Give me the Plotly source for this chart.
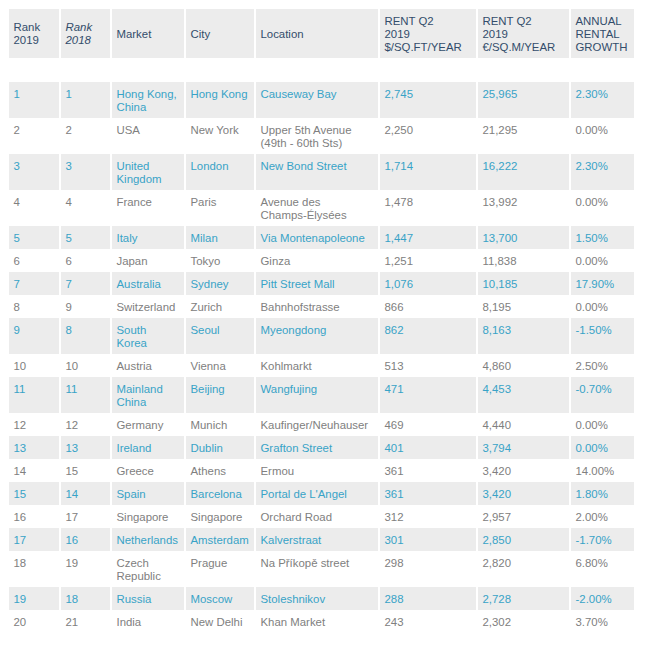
import plotly.graph_objects as go

# ---------------- data ----------------
header_labels = ["Rank\n2019", "<i>Rank</i>\n<i>2018</i>", "Market", "City", "Location",
                 "RENT Q2\n2019\n$/SQ.FT/YEAR", "RENT Q2\n2019\n€/SQ.M/YEAR", "ANNUAL\nRENTAL\nGROWTH"]

rank_2019 = [1, 2, 3, 4, 5, 6, 7, 8, 9, 10, 11, 12, 13, 14, 15, 16, 17, 18, 19, 20]
rank_2018 = [1, 2, 3, 4, 5, 6, 7, 9, 8, 10, 11, 12, 13, 15, 14, 17, 16, 19, 18, 21]
market = ["Hong Kong,\nChina", "USA", "United\nKingdom", "France", "Italy", "Japan", "Australia",
          "Switzerland", "South\nKorea", "Austria", "Mainland\nChina", "Germany", "Ireland", "Greece",
          "Spain", "Singapore", "Netherlands", "Czech\nRepublic", "Russia", "India"]
city = ["Hong Kong", "New York", "London", "Paris", "Milan", "Tokyo", "Sydney", "Zurich", "Seoul",
        "Vienna", "Beijing", "Munich", "Dublin", "Athens", "Barcelona", "Singapore", "Amsterdam",
        "Prague", "Moscow", "New Delhi"]
location = ["Causeway Bay", "Upper 5th Avenue\n(49th - 60th Sts)", "New Bond Street",
            "Avenue des\nChamps-Élysées", "Via Montenapoleone", "Ginza", "Pitt Street Mall",
            "Bahnhofstrasse", "Myeongdong", "Kohlmarkt", "Wangfujing", "Kaufinger/Neuhauser",
            "Grafton Street", "Ermou", "Portal de L'Angel", "Orchard Road", "Kalverstraat",
            "Na Příkopě street", "Stoleshnikov", "Khan Market"]
rent_usd_sqft = [2745, 2250, 1714, 1478, 1447, 1251, 1076, 866, 862, 513, 471, 469, 401, 361, 361,
                 312, 301, 298, 288, 243]
rent_eur_sqm = [25965, 21295, 16222, 13992, 13700, 11838, 10185, 8195, 8163, 4860, 4453, 4440, 3794,
                3420, 3420, 2957, 2850, 2820, 2728, 2302]
rental_growth = [2.30, 0.00, 2.30, 0.00, 1.50, 0.00, 17.90, 0.00, -1.50, 2.50, -0.70, 0.00, 0.00,
                 14.00, 1.80, 2.00, -1.70, 6.80, -2.00, 3.70]

# ---------------- layout constants ----------------
W, H = 647, 659
col_edges = [8, 60, 111, 185, 255, 379, 477, 570, 635]
TEXT_PAD = 5.5
TOP = 9
HEADER_H = 49
GAP_H = 24
ROW_H = 23
LINE_H = 13
FONT = "Liberation Sans, Arial, sans-serif"
FS = 11.4
SHADE = "#ececec"
HEAD_COLOR = "#334d6b"
LINK_COLOR = "#38a3c7"
GRAY_COLOR = "#808080"

columns = [
    [str(v) for v in rank_2019],
    [str(v) for v in rank_2018],
    market,
    city,
    location,
    [f"{v:,}" for v in rent_usd_sqft],
    [f"{v:,}" for v in rent_eur_sqm],
    [f"{v:.2f}%" for v in rental_growth],
]
n_rows = len(rank_2019)
n_cols = len(columns)

# row geometry
line_counts = [max(len(col[i].split("\n")) for col in columns) for i in range(n_rows)]
y_edges = [TOP, TOP + HEADER_H, TOP + HEADER_H + GAP_H]
for lc in line_counts:
    y_edges.append(y_edges[-1] + ROW_H + (lc - 1) * LINE_H)

# fill matrix: header shaded, gap white, data rows alternate
z = [[1] * n_cols, [0] * n_cols]
for i in range(n_rows):
    z.append([1 if i % 2 == 0 else 0] * n_cols)

fig = go.Figure()
fig.add_trace(go.Heatmap(
    x=col_edges, y=y_edges, z=z,
    colorscale=[[0, "#ffffff"], [1, SHADE]], zmin=0, zmax=1,
    showscale=False, xgap=2, ygap=0, hoverinfo="skip",
))

xs, ys, texts, colors = [], [], [], []
# header text: vertically centred
for j, lab in enumerate(header_labels):
    lines = lab.split("\n")
    mid = TOP + HEADER_H / 2
    for k, ln in enumerate(lines):
        xs.append(col_edges[j] + TEXT_PAD)
        ys.append(mid + (k - (len(lines) - 1) / 2) * LINE_H + 1.5)
        texts.append(ln)
        colors.append(HEAD_COLOR)
# body text: top aligned
for i in range(n_rows):
    top = y_edges[2 + i]
    c = LINK_COLOR if i % 2 == 0 else GRAY_COLOR
    for j in range(n_cols):
        for k, ln in enumerate(columns[j][i].split("\n")):
            xs.append(col_edges[j] + TEXT_PAD)
            ys.append(top + 12.8 + k * LINE_H)
            texts.append(ln)
            colors.append(c)

fig.add_trace(go.Scatter(
    x=xs, y=ys, text=texts, mode="text", textposition="middle right",
    textfont=dict(family=FONT, size=FS, color=colors), hoverinfo="skip", showlegend=False,
))

fig.update_layout(
    width=W, height=H, margin=dict(l=0, r=0, t=0, b=0),
    paper_bgcolor="white", plot_bgcolor="white", hovermode=False,
    xaxis=dict(range=[0, W], visible=False, fixedrange=True),
    yaxis=dict(range=[H, 0], visible=False, fixedrange=True),
    showlegend=False,
)
fig.write_html("out.html", config={"displayModeBar": False},
               post_script="document.body.style.margin='0';document.body.style.overflow='hidden';")
